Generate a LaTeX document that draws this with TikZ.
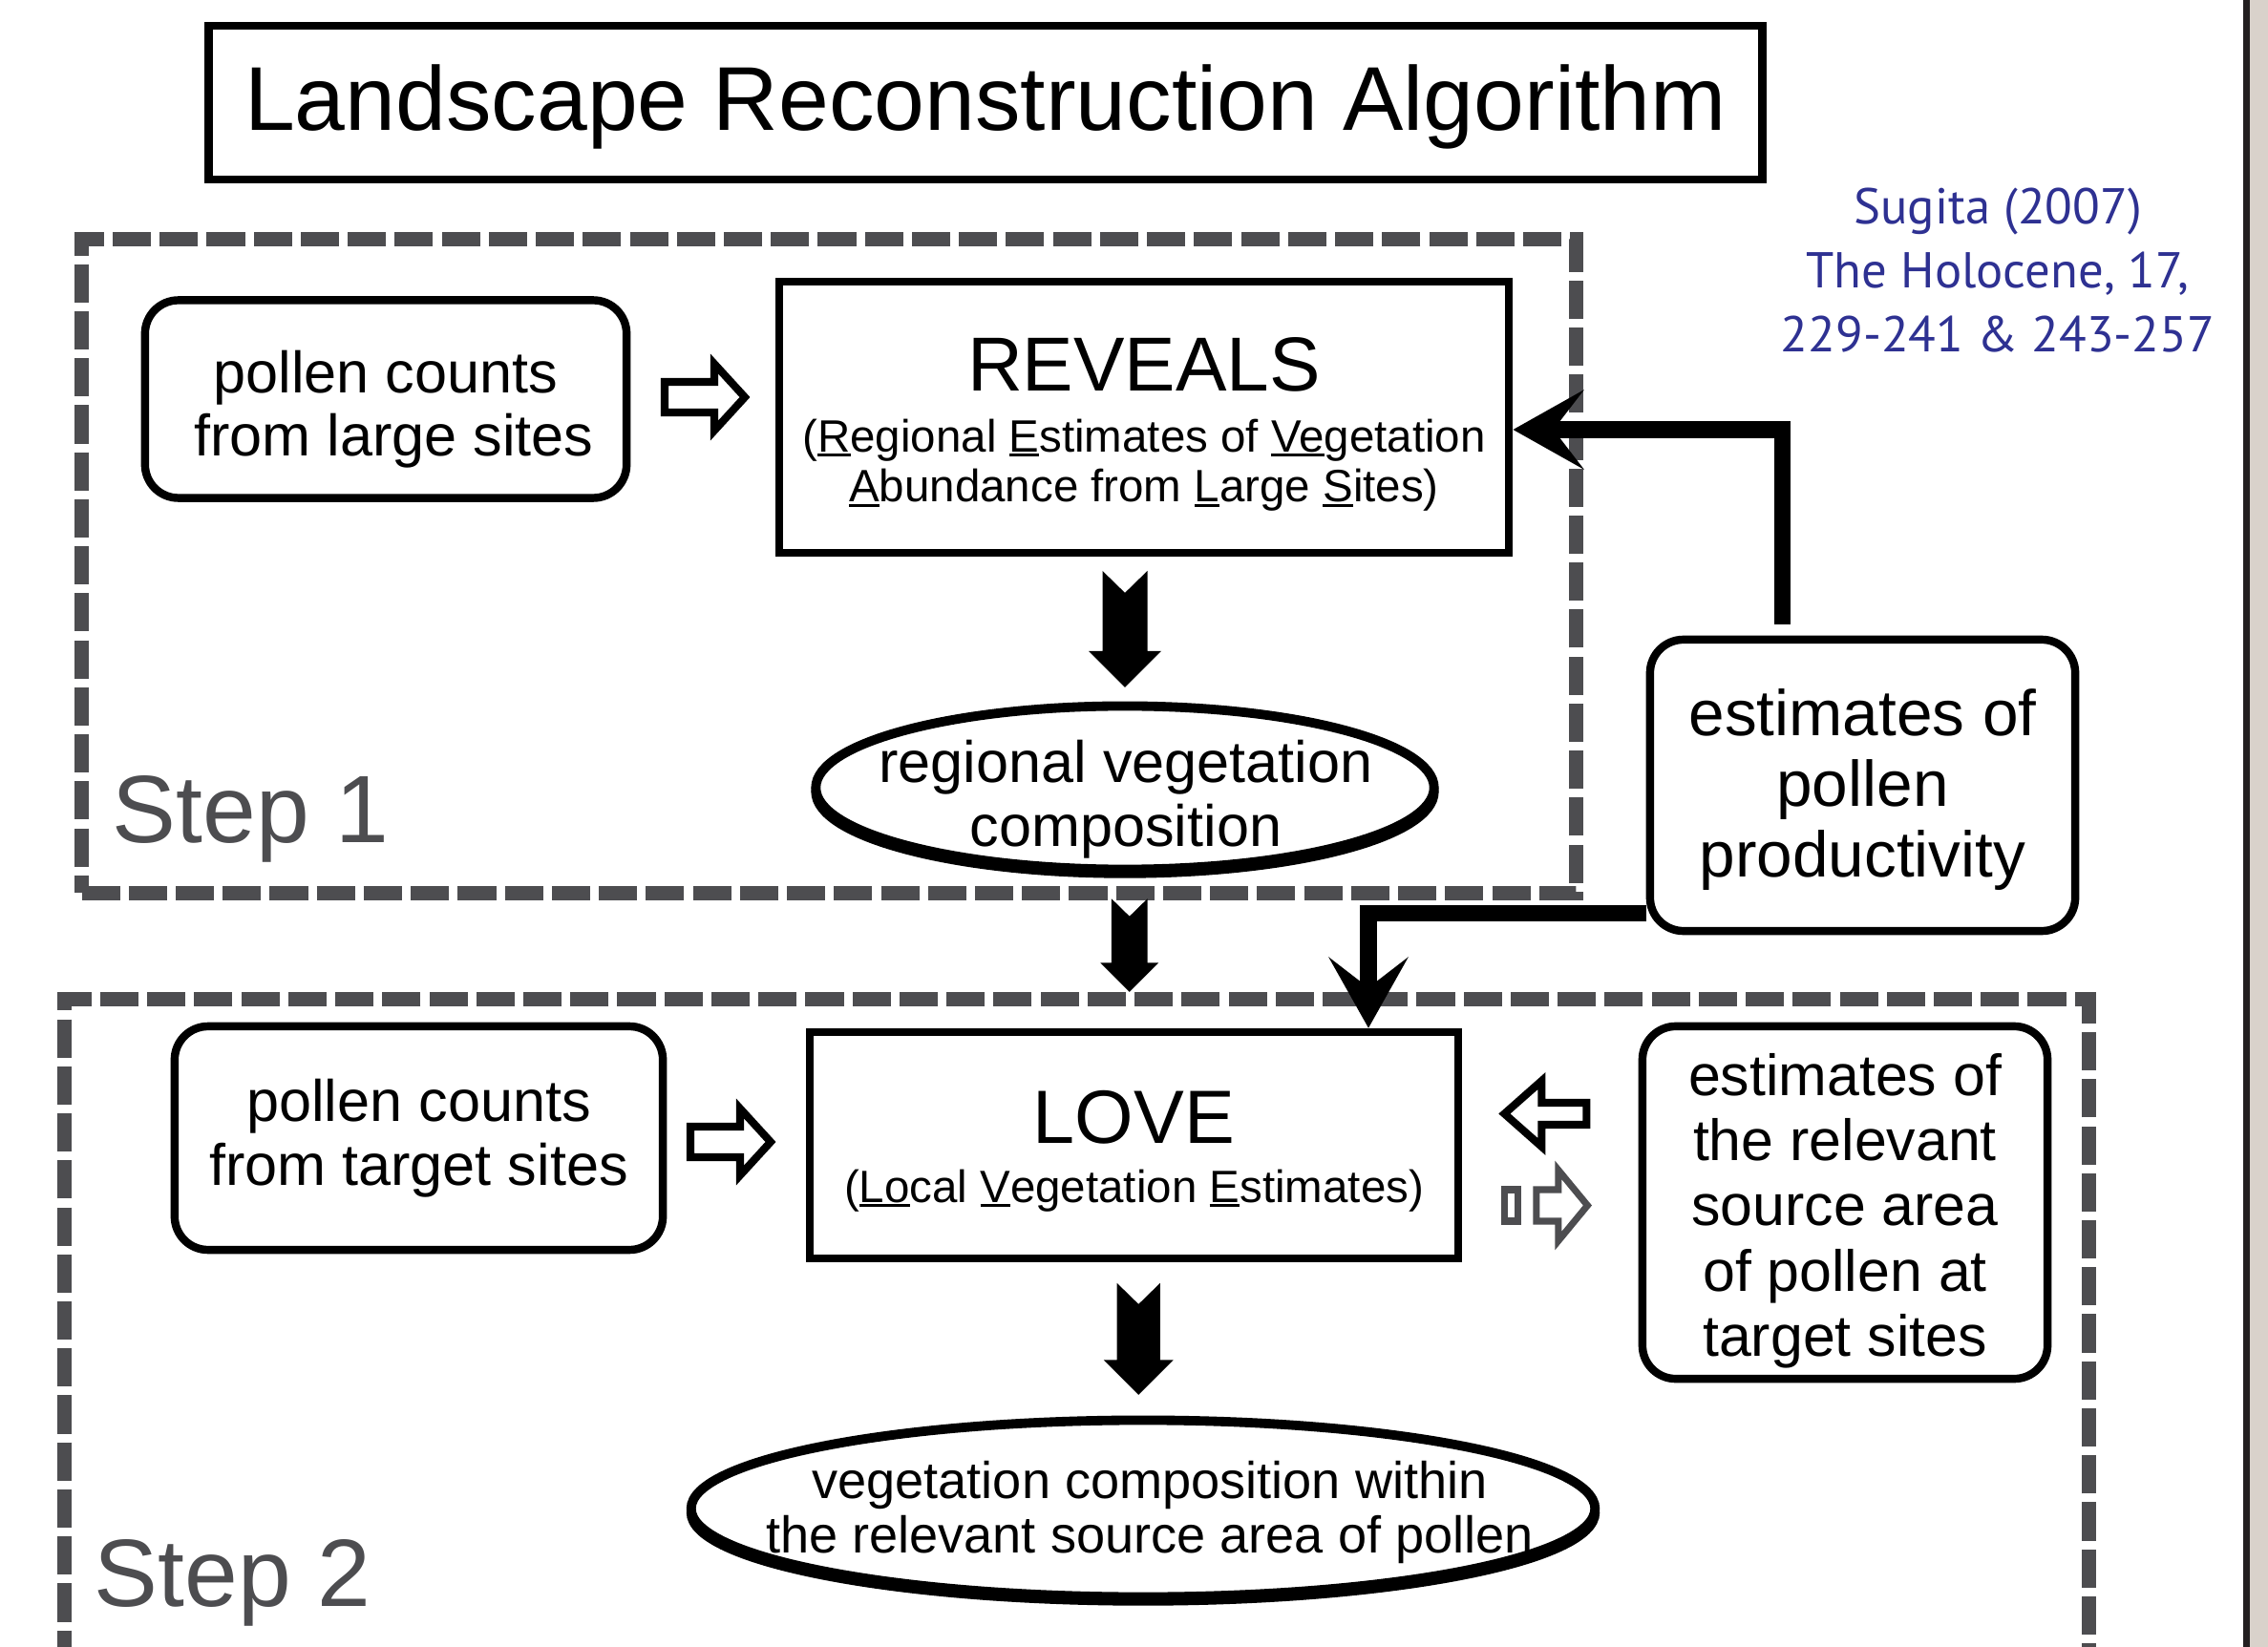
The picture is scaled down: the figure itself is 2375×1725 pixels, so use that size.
\documentclass[tikz,border=0pt]{standalone}
\usepackage{fontspec}
\setmainfont{Liberation Sans}
\newfontfamily\reffont{PT Sans}
\usetikzlibrary{arrows.meta,shapes.geometric,calc}
\definecolor{dgray}{RGB}{77,77,80}
\definecolor{refblue}{RGB}{46,49,146}
\definecolor{edgebeige}{RGB}{217,210,203}
\definecolor{edgedark}{RGB}{35,31,32}
\newsavebox\ulbox
\newcommand\uln[1]{\sbox\ulbox{#1}\rlap{\rule[-1.4pt]{\wd\ulbox}{0.9pt}}\usebox\ulbox}
\newcommand\fs[2]{\fontsize{#1}{#2}\selectfont}
\newcommand\strt[1]{\rule{0pt}{#1}}
\tikzset{
  box/.style={draw, line width=2.4pt, inner sep=0pt, align=center},
  rbox/.style={box, rounded corners=0.35cm},
  ell/.style={draw, ellipse, line width=2.8pt, fill=white, inner sep=0pt,
    preaction={draw, line width=2.8pt, fill=black, transform canvas={yshift=-1.2pt}}},
  stepframe/.style={draw=dgray, line width=4.3pt, dash pattern=on 11.4pt off 2.6pt, inner sep=0pt},
  steplabel/.style={anchor=base west, text=dgray, font=\fs{28.5}{30}, inner sep=0pt},
  feed/.style={draw, line width=5pt, -{Stealth[length=21pt, width=23.5pt, inset=9pt]}},
  txt/.style={inner sep=0pt, align=center},
  hollowR/.pic={\draw[line width=2.3pt, fill=white] (-43,-16) -- (9,-16) -- (9,-35) -- (41,0) -- (9,35) -- (9,16) -- (-43,16) -- cycle;},
  hollowL/.pic={\draw[line width=2.3pt, fill=white] (43.5,-11.5) -- (-3.5,-11.5) -- (-3.5,-34.5) -- (-42.5,0) -- (-3.5,34.5) -- (-3.5,11.5) -- (43.5,11.5) -- cycle;},
  grayR/.pic={\draw[draw=dgray, line width=2pt, fill=white] (-43.5,-16.5) rectangle (-29.5,16.5);
              \draw[draw=dgray, line width=2pt, fill=white] (-10.5,-16.5) -- (12.5,-16.5) -- (12.5,-37) -- (43,0) -- (12.5,37) -- (12.5,16.5) -- (-10.5,16.5) -- cycle;},
  fatdown/.pic={\fill (-23.5,-61) -- (0,-38) -- (23.5,-61) -- (23.5,23) -- (38,23) -- (0,61) -- (-38,23) -- (-23.5,23) -- cycle;},
}
\begin{document}
\begin{tikzpicture}[x=0.01cm,y=-0.01cm]
\useasboundingbox (0,0) rectangle (2375,1725);
\clip (0,0) rectangle (2375,1725);
\fill[white] (0,0) rectangle (2375,1725);
\fill[edgedark] (2349,0) rectangle (2356,1725);
\fill[edgebeige] (2356,0) rectangle (2375,1725);

\node[box, minimum width=16.26cm, minimum height=1.61cm, font=\fs{27}{30}] (title) at (1032,107.5) {\strt{21.9pt}Landscape Reconstruction Algorithm};
\node[txt, text=refblue, font={\reffont\fs{15}{19}}] (ref) at (2092,283) {Sugita (2007)\\The Holocene, 17,\\229-241 \& 243-257};

\node[stepframe, minimum width=15.64cm, minimum height=6.84cm] (step1) at (868,593) {};
\node[stepframe, minimum width=21.19cm, minimum height=7.6cm] (step2) at (1127.5,1427) {};
\node[steplabel] (s1) at (117,883) {Step 1};
\node[steplabel] (s2) at (98,1682) {Step 2};

\node[rbox, minimum width=5.04cm, minimum height=2.07cm, font=\fs{17.4}{19}] (boxA) at (404,418) {\strt{18.7pt}pollen counts\\\hspace*{4.8pt}from large sites};
\node[box, minimum width=7.64cm, minimum height=2.84cm, font=\fs{13.5}{15}] (reveals) at (1198,437)
  {\strt{20.3pt}{\fs{22.8}{23}REVEALS}\\[3pt](\uln{R}egional \uln{E}stimates of \uln{Ve}getation\\\uln{A}bundance from \uln{L}arge \uln{S}ites)};
\node[ell, minimum width=6.47cm, minimum height=1.71cm] (ell1) at (1178,825) {};
\node[txt, font=\fs{17.4}{19}] (ell1t) at (1179,837) {regional vegetation\\composition};

\node[rbox, minimum width=4.45cm, minimum height=3.05cm, font=\fs{19.2}{21}] (prod) at (1950.5,822.5) {\strt{16.3pt}estimates of\\pollen\hspace*{5.3pt}\\productivity};

\node[rbox, minimum width=5.11cm, minimum height=2.34cm, font=\fs{17.4}{19}] (boxB) at (438.5,1192) {pollen counts\\from target sites};
\node[box, minimum width=6.79cm, minimum height=2.37cm, font=\fs{13.5}{15}] (love) at (1187.5,1199.5)
  {\strt{19.3pt}{\fs{22.5}{23}LOVE}\\[2.6pt](\uln{Lo}cal \uln{V}egetation \uln{E}stimates)};
\node[rbox, minimum width=4.24cm, minimum height=3.69cm, font=\fs{17.3}{19.4}] (boxC) at (1932,1259.5) {\strt{17.5pt}estimates of\\the relevant\\source area\hspace*{4.8pt}\\of pollen at\\target sites};
\node[ell, minimum width=9.46cm, minimum height=1.85cm] (ell2) at (1197,1580) {};
\node[txt, font=\fs{15.4}{16}] (ell2t) at (1204,1584) {vegetation composition within\\the relevant source area of pollen};

\pic (h1) at ($(boxA.east)!.5!(boxA.east -| reveals.west)+(3,-2)$) {hollowR};
\pic (h2) at ($(boxB.east)!.5!(boxB.east -| love.west)+(-5,4)$) {hollowR};
\pic (hl) at ($(love.east)+(86.5,-33)$) {hollowL};
\pic (hg) at ($(love.east)+(88,63)$) {grayR};
\pic (d1) at ($(reveals.south -| ell1.north)!.5!(ell1.north)$) {fatdown};
\pic[scale=.8] (d2) at ($(ell1.south)!.5!(love.north)+(0,-6)$) {fatdown};
\pic[scale=.96] (d3) at ($(love.south)!.5!(ell2.north)$) {fatdown};

\draw[feed] ([shift={(-84,-12)}]prod.north) |- ([shift={(0,13)}]reveals.east);
\draw[feed] ([shift={(0,134)}]prod.west) -| ([shift={(245.5,0)}]love.north);
\end{tikzpicture}
\end{document}
